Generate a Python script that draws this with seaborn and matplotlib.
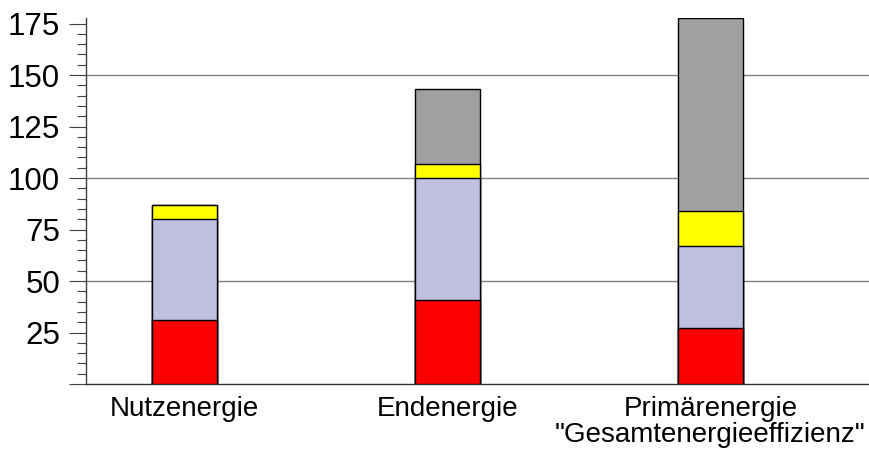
import matplotlib.pyplot as plt
import seaborn as sns
import pandas as pd
from matplotlib.ticker import MultipleLocator, FixedLocator

categories = ["Nutzenergie", "Endenergie", "Primärenergie\n\"Gesamtenergieeffizienz\""]
rot = [31, 41, 27]
lila = [49, 59, 40]
gelb = [7, 7, 17]
grau = [0, 36, 93.5]

sns.set_style("white")
plt.rcParams["font.family"] = ["Liberation Sans", "DejaVu Sans"]
plt.rcParams["text.color"] = "black"
plt.rcParams["xtick.labelcolor"] = "black"
plt.rcParams["ytick.labelcolor"] = "black"

df = pd.DataFrame({"kategorie": categories, "rot": rot, "lila": lila, "gelb": gelb, "grau": grau})
df["s1"] = df["rot"]
df["s2"] = df["s1"] + df["lila"]
df["s3"] = df["s2"] + df["gelb"]
df["s4"] = df["s3"] + df["grau"]

fig = plt.figure(figsize=(8.69, 4.5), dpi=100)
ax = fig.add_axes([86 / 869, 66 / 450, 783 / 869, 366 / 450])

# gestapelte Balken: kumulierte Summen, groesste zuerst
schichten = [("s4", "#a0a0a0"), ("s3", "#ffff00"), ("s2", "#bfc0df"), ("s1", "#ff0000")]
for spalte, farbe in schichten:
    sns.barplot(data=df, x="kategorie", y=spalte, order=categories, color=farbe,
                width=0.247, edgecolor="black", linewidth=1, errorbar=None,
                saturation=1, ax=ax, zorder=3)

ax.set_xlim(-0.375, 2.603)
ax.set_ylim(0, 177.7)
ax.set_xlabel("")
ax.set_ylabel("")

ax.yaxis.set_major_locator(FixedLocator([0, 25, 50, 75, 100, 125, 150, 175]))
ax.yaxis.set_minor_locator(MultipleLocator(5))
ax.set_yticklabels(["", "25", "50", "75", "100", "125", "150", "175"])
ax.tick_params(axis="y", which="major", length=12.2, width=0.8, color="#404040",
               direction="out", labelsize=22.5, pad=6.5, left=True, labelcolor="black")
ax.tick_params(axis="y", which="minor", length=6.5, width=0.8, color="#404040",
               direction="out", left=True)
ax.tick_params(axis="x", length=0, labelsize=20, pad=9, labelcolor="black")
for lbl in ax.get_xticklabels():
    lbl.set_linespacing(0.95)

for g in [50, 100, 150]:
    ax.axhline(g, color="#808080", linewidth=1, zorder=1)

for s in ["top", "right"]:
    ax.spines[s].set_visible(False)
ax.spines["left"].set_color("#404040")
ax.spines["bottom"].set_color("#303030")
ax.spines["left"].set_linewidth(1)
ax.spines["bottom"].set_linewidth(1)

plt.savefig("out.png", dpi=100)
